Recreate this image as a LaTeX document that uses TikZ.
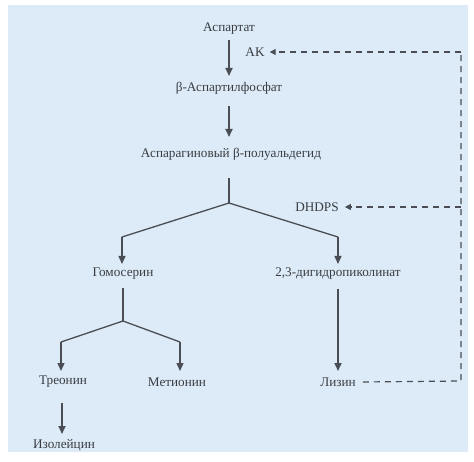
\documentclass[tikz,border=0pt]{standalone}
\usepackage{fontspec}
\setmainfont{Liberation Serif}
\usetikzlibrary{arrows.meta}
\definecolor{bg}{RGB}{220,235,247}
\definecolor{ink}{RGB}{75,77,84}
\definecolor{txt}{RGB}{58,60,66}
\begin{document}
\begin{tikzpicture}[x=1pt,y=-1pt,
  font=\fontsize{13.2}{15}\selectfont,
  lbl/.style={text=txt, inner sep=0pt},
  arr/.style={draw=ink, line width=1.8pt, -{Triangle[length=8pt,width=7pt]}},
  brarr/.style={draw=ink, line width=1.3pt, -{Triangle[length=8pt,width=7pt]}},
  ln/.style={draw=ink, line width=1.3pt},
  fb/.style={draw=ink, line width=1.2pt, dash pattern=on 6pt off 5pt},
  fbarr/.style={fb, -{Triangle[length=6pt,width=6pt]}}]
\useasboundingbox (0,0) rectangle (474,462);
\fill[bg] (8,5) rectangle (468,452);
% nodes
\node[lbl] (asp) at (229,29) {Аспартат};
\node[lbl] (ak) at (255,52) {AK};
\node[lbl] (bap) at (229,88) {β-Аспартилфосфат};
\node[lbl] (apa) at (231,154) {Аспарагиновый β-полуальдегид};
\node[lbl] (dhdps) at (317,207) {DHDPS};
\node[lbl] (hom) at (123,274) {Гомосерин};
\node[lbl] (dhp) at (338,274) {2,3-дигидропиколинат};
\node[lbl] (thr) at (63,382) {Треонин};
\node[lbl] (met) at (177,382) {Метионин};
\node[lbl] (lys) at (338,382) {Лизин};
\node[lbl] (ile) at (64,445) {Изолейцин};
% coordinates
\coordinate (b1) at (229,203);
\coordinate (b1l) at (122,237);
\coordinate (b1r) at (338,237);
\coordinate (b2) at (123,321);
\coordinate (b2l) at (61,342);
\coordinate (b2r) at (180,342);
\coordinate (fbtop) at (461,52);
\coordinate (fbmid) at (461,207);
\coordinate (fbbot) at (461,381);
% main arrows
\draw[arr] (229,40) -- (229,76);
\draw[arr] (229,106) -- (229,137);
\draw[ln] (229,178) -- (b1);
\draw[ln] (b1) -- (b1l);
\draw[ln] (b1) -- (b1r);
\draw[brarr] (b1l) -- (122,264);
\draw[brarr] (b1r) -- (338,264);
\draw[ln] (123,288) -- (b2);
\draw[ln] (b2) -- (b2l);
\draw[ln] (b2) -- (b2r);
\draw[brarr] (b2l) -- (61,371);
\draw[brarr] (b2r) -- (180,371);
\draw[arr] (338,289) -- (338,371);
\draw[arr] (62,403) -- (62,434);
% feedback
\draw[fb] (lys.east) ++(7,0) -- (fbbot) -- (fbtop);
\draw[fbarr] (fbtop) -- ([xshift=5pt]ak.east);
\draw[fbarr] (fbmid) -- ([xshift=6pt]dhdps.east);
\end{tikzpicture}
\end{document}
